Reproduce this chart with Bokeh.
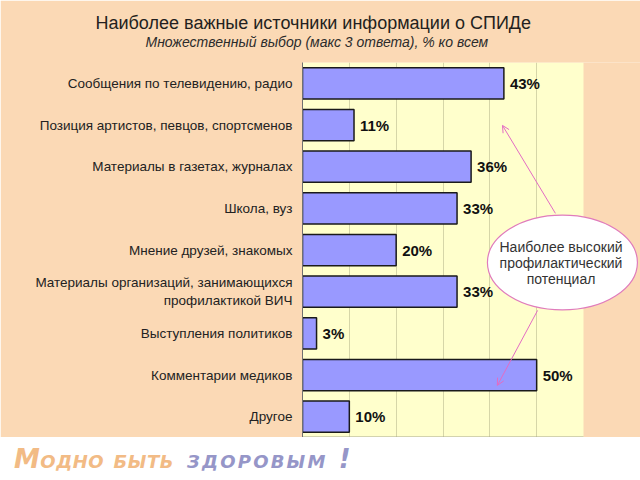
from bokeh.plotting import figure
from bokeh.models import (Range1d, FactorRange, FixedTicker, Title, Arrow,
                          OpenHead, ColumnDataSource, Div)
from bokeh.layouts import column
from bokeh.embed import file_html
from bokeh.resources import INLINE
from bokeh.core.properties import value

# ---------------- data ----------------
categories = [
    "Сообщения по телевидению, радио",
    "Позиция артистов, певцов, спортсменов",
    "Материалы в газетах, журналах",
    "Школа, вуз",
    "Мнение друзей, знакомых",
    "Материалы организаций, занимающихся\nпрофилактикой ВИЧ",
    "Выступления политиков",
    "Комментарии медиков",
    "Другое",
]
values = [43, 11, 36, 33, 20, 33, 3, 50, 10]
value_labels = [f"{v}%" for v in values]
grid_ticks = [10, 20, 30, 40, 50]
axis_max = 60

title_text = "Наиболее важные источники информации о СПИДе"
subtitle_text = "Множественный выбор (макс 3 ответа), % ко всем"
callout_lines = ["Наиболее высокий", "профилактический", "потенциал"]
slogan_parts = ["Модно быть", "здоровым !"]

# ---------------- style ----------------
PEACH = "#FBD9B5"
YELLOW = "#FFFFCC"
BAR = "#9999FF"
GRID = "#D6D6A8"
PINK = "#E36CC3"
FONT = "Liberation Sans"

W = 640
H_MAIN = 437
H_FOOT = 43
LEFT = 302
TOP = 62
PLOT_RIGHT = 583
x_end = axis_max * (W - LEFT) / (PLOT_RIGHT - LEFT)

p = figure(width=W, height=H_MAIN,
           x_range=Range1d(0, x_end),
           y_range=FactorRange(*reversed(categories)),
           x_axis_location=None,
           toolbar_location=None, output_backend="svg",
           min_border_left=LEFT, min_border_right=0,
           min_border_top=TOP, min_border_bottom=0,
           background_fill_color=PEACH, border_fill_color=PEACH,
           outline_line_color=None,
           title=title_text)

p.title.text_font = FONT
p.title.text_font_size = "18px"
p.title.text_font_style = "normal"
p.title.text_color = "#231F20"
p.title.align = "left"
p.title.offset = 95 - LEFT
p.title.vertical_align = "bottom"
p.title.standoff = 2

# spacer between subtitle and plot area (first added = nearest the frame)
spacer = Title(text=" ", text_font_size="6px", standoff=3)
p.add_layout(spacer, "above")

sub = Title(text=subtitle_text, align="left", offset=145 - LEFT,
            vertical_align="top", standoff=0,
            text_font=FONT, text_font_size="14px", text_font_style="italic",
            text_color="#2B2B2B")
p.add_layout(sub, "above")

# plot area (yellow) drawn from the value scale
p.quad(left=[0], right=[axis_max], bottom=[0], top=[len(categories)],
       fill_color=YELLOW, line_color=None, level="image")

p.xgrid.ticker = FixedTicker(ticks=grid_ticks)
p.xgrid.grid_line_color = GRID
p.xgrid.grid_line_width = 1
p.ygrid.visible = False

# bottom border of plot area
p.segment(x0=[0], x1=[axis_max], y0=[0], y1=[0], line_color="#A8A890",
          line_width=2)

src = ColumnDataSource(dict(cat=categories, val=values, lab=value_labels))
p.hbar(y="cat", left=0, right="val", height=0.75, source=src,
       fill_color=BAR, line_color="#1A1A1A", line_width=1.5)
p.text(x="val", y="cat", text="lab", source=src, x_offset=6,
       text_baseline="middle", text_align="left",
       text_font=value(FONT), text_font_size="15px", text_font_style="bold",
       text_color="#111111")

ax = p.yaxis[0]
ax.axis_line_color = "#707070"
ax.major_tick_line_color = None
ax.major_tick_out = 0
ax.major_tick_in = 0
ax.minor_tick_line_color = None
ax.major_label_standoff = 10
ax.major_label_text_font = FONT
ax.major_label_text_font_size = "13.5px"
ax.major_label_text_color = "#222222"

# callout
p.add_layout(Arrow(end=OpenHead(size=7, line_color=PINK, line_width=1),
                   x_start=54.0, y_start=5.38, x_end=42.7, y_end=7.49,
                   line_color=PINK, line_width=1))
p.add_layout(Arrow(end=OpenHead(size=7, line_color=PINK, line_width=1),
                   x_start=50.2, y_start=3.05, x_end=41.6, y_end=1.25,
                   line_color=PINK, line_width=1))
p.ellipse(x=[55.5], y=[4.2], width=150, height=95,
          width_units="screen", height_units="screen",
          fill_color="white", line_color="#E07CBC", line_width=1.2)
p.text(x=[55.2] * 3, y=[4.2] * 3, text=callout_lines,
       y_offset=[-16, 0, 16], text_align="center", text_baseline="middle",
       text_font=value(FONT), text_font_size="14px", text_color="#333333")

# footer with slogan
slogan_html = (
    f'<div style="padding:9px 0 0 14px; white-space:nowrap; '
    f'font-family:\'DejaVu Sans\'; font-size:26px; font-weight:bold; '
    f'font-style:italic; font-variant:small-caps; '
    f'line-height:26px;">'
    f'<span style="color:#F2BB85; letter-spacing:0.5px">{slogan_parts[0]}</span> '
    f'<span style="color:#9696C8; letter-spacing:2.2px; margin-left:4px">'
    f'{slogan_parts[1]}</span></div>'
)
footer = Div(text=slogan_html, width=W, height=H_FOOT, margin=0,
             styles={"background-color": "white"})

layout = column(p, footer, spacing=0)
open("out.html", "w").write(file_html(layout, INLINE))
